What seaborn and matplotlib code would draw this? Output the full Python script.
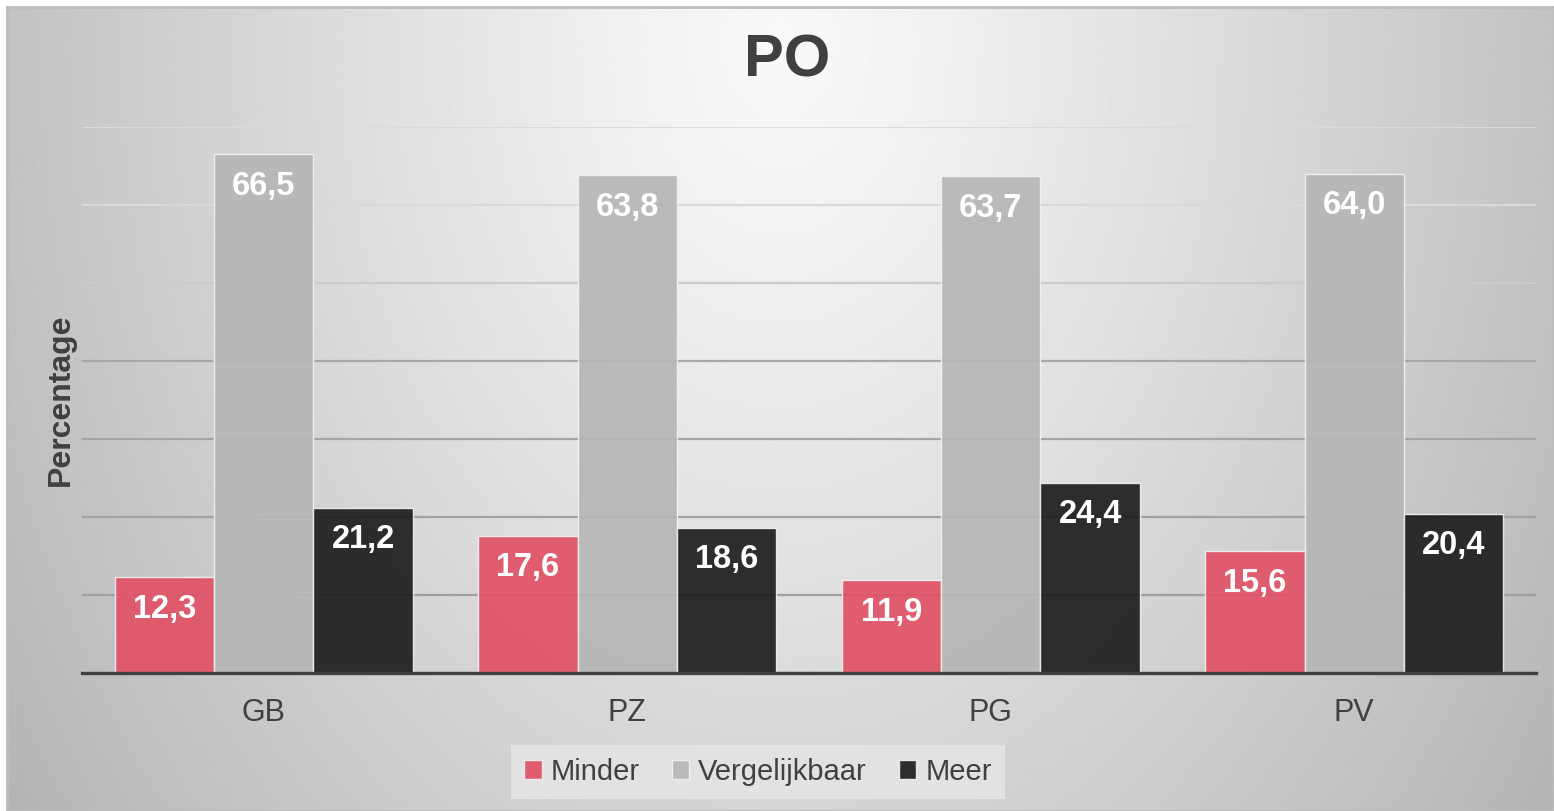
import numpy as np
import pandas as pd
import seaborn as sns
import matplotlib.pyplot as plt
from matplotlib.patches import Patch

# data
categorieen = ["GB", "PZ", "PG", "PV"]
reeksen = ["Minder", "Vergelijkbaar", "Meer"]
minder = [12.3, 17.6, 11.9, 15.6]
vergelijkbaar = [66.5, 63.8, 63.7, 64.0]
meer = [21.2, 18.6, 24.4, 20.4]

kleuren = ["#e05265", "#b6b6b6", "#1e1e1e"]

df = pd.DataFrame({
    "cat": categorieen * 3,
    "reeks": [reeksen[0]] * 4 + [reeksen[1]] * 4 + [reeksen[2]] * 4,
    "Percentage": minder + vergelijkbaar + meer,
})

sns.set_style("white")
plt.rcParams["font.family"] = ["Liberation Sans", "DejaVu Sans"]
tekst = "#404040"

W, H = 1554, 811
fig = plt.figure(figsize=(W / 100, H / 100), dpi=100)
fig.patch.set_facecolor("white")

# achtergrond met radiaal verloop
bg = fig.add_axes([7 / W, 0, 1 - 7 / W, 1 - 7 / H])
xx, yy = np.meshgrid(np.linspace(7, W, 1000), np.linspace(7, H, 520))
d = np.sqrt(((xx - 780) / 780) ** 2 + ((yy - 40) / 1100) ** 2)
grad = np.clip(0.975 - 0.215 * d ** 1.15, 0, 1)
bg.imshow(grad, cmap="gray", vmin=0, vmax=1, aspect="auto", interpolation="bilinear")
bg.set_xticks([])
bg.set_yticks([])
for s in bg.spines.values():
    s.set_color("#bdbdbd")
    s.set_linewidth(2)

ax = fig.add_axes([82 / W, 1 - 673 / H, (1536 - 82) / W, (673 - 127) / H])
ax.set_facecolor("none")

sns.barplot(data=df, x="cat", y="Percentage", hue="reeks", palette=kleuren,
            saturation=1, width=0.82, alpha=0.92, edgecolor="#f2f2f2", linewidth=1,
            errorbar=None, ax=ax, zorder=3)
ax.get_legend().remove()

ax.set_ylim(0, 70)
ax.set_xlim(-0.5, 3.5)
ax.set_yticks(range(0, 71, 10))
ax.set_yticklabels([])
ax.yaxis.grid(True, linewidth=1.6, zorder=0)
grid_kleuren = ["#a0a0a0", "#a0a0a0", "#a2a2a2", "#a4a4a4", "#a8a8a8", "#cbcbcb", "#d9d9d9", "#dadada"]
for gl, c in zip(ax.get_ygridlines(), grid_kleuren):
    gl.set_color(c)
ax.set_axisbelow(True)

for s in ["left", "right", "top"]:
    ax.spines[s].set_visible(False)
ax.spines["bottom"].set_color(tekst)
ax.spines["bottom"].set_linewidth(2.4)
ax.spines["bottom"].set_zorder(5)

ax.tick_params(axis="both", length=0)
ax.tick_params(axis="x", labelsize=22, labelcolor=tekst, pad=18)
ax.set_xlabel("")
ax.set_ylabel("Percentage", fontsize=23, fontweight="bold", color=tekst, labelpad=1)

# waardelabels in de staven
for cont in ax.containers:
    for bar in cont:
        h = bar.get_height()
        ax.annotate(f"{h:.1f}".replace(".", ","),
                    (bar.get_x() + bar.get_width() / 2, h),
                    xytext=(0, -23), textcoords="offset points",
                    ha="center", va="center", color="white",
                    fontsize=23.5, fontweight="bold", zorder=6)

fig.text(787 / W, 1 - 61 / H, "PO", ha="center", va="center",
         fontsize=43, fontweight="bold", color=tekst)

handles = [Patch(facecolor=k, edgecolor="#f2f2f2", alpha=0.92) for k in kleuren]
leg = fig.legend(handles, reeksen, loc="center", bbox_to_anchor=(758 / W, 1 - 772 / H),
                 ncol=3, frameon=True, fancybox=False, fontsize=21,
                 handlelength=0.6, handleheight=0.6, handletextpad=0.3,
                 columnspacing=1.1, borderpad=0.45)
leg.get_frame().set_facecolor("#e2e2e2")
leg.get_frame().set_edgecolor("none")
leg.get_frame().set_alpha(1)
for t in leg.get_texts():
    t.set_color(tekst)

fig.savefig("out.png", dpi=100)
